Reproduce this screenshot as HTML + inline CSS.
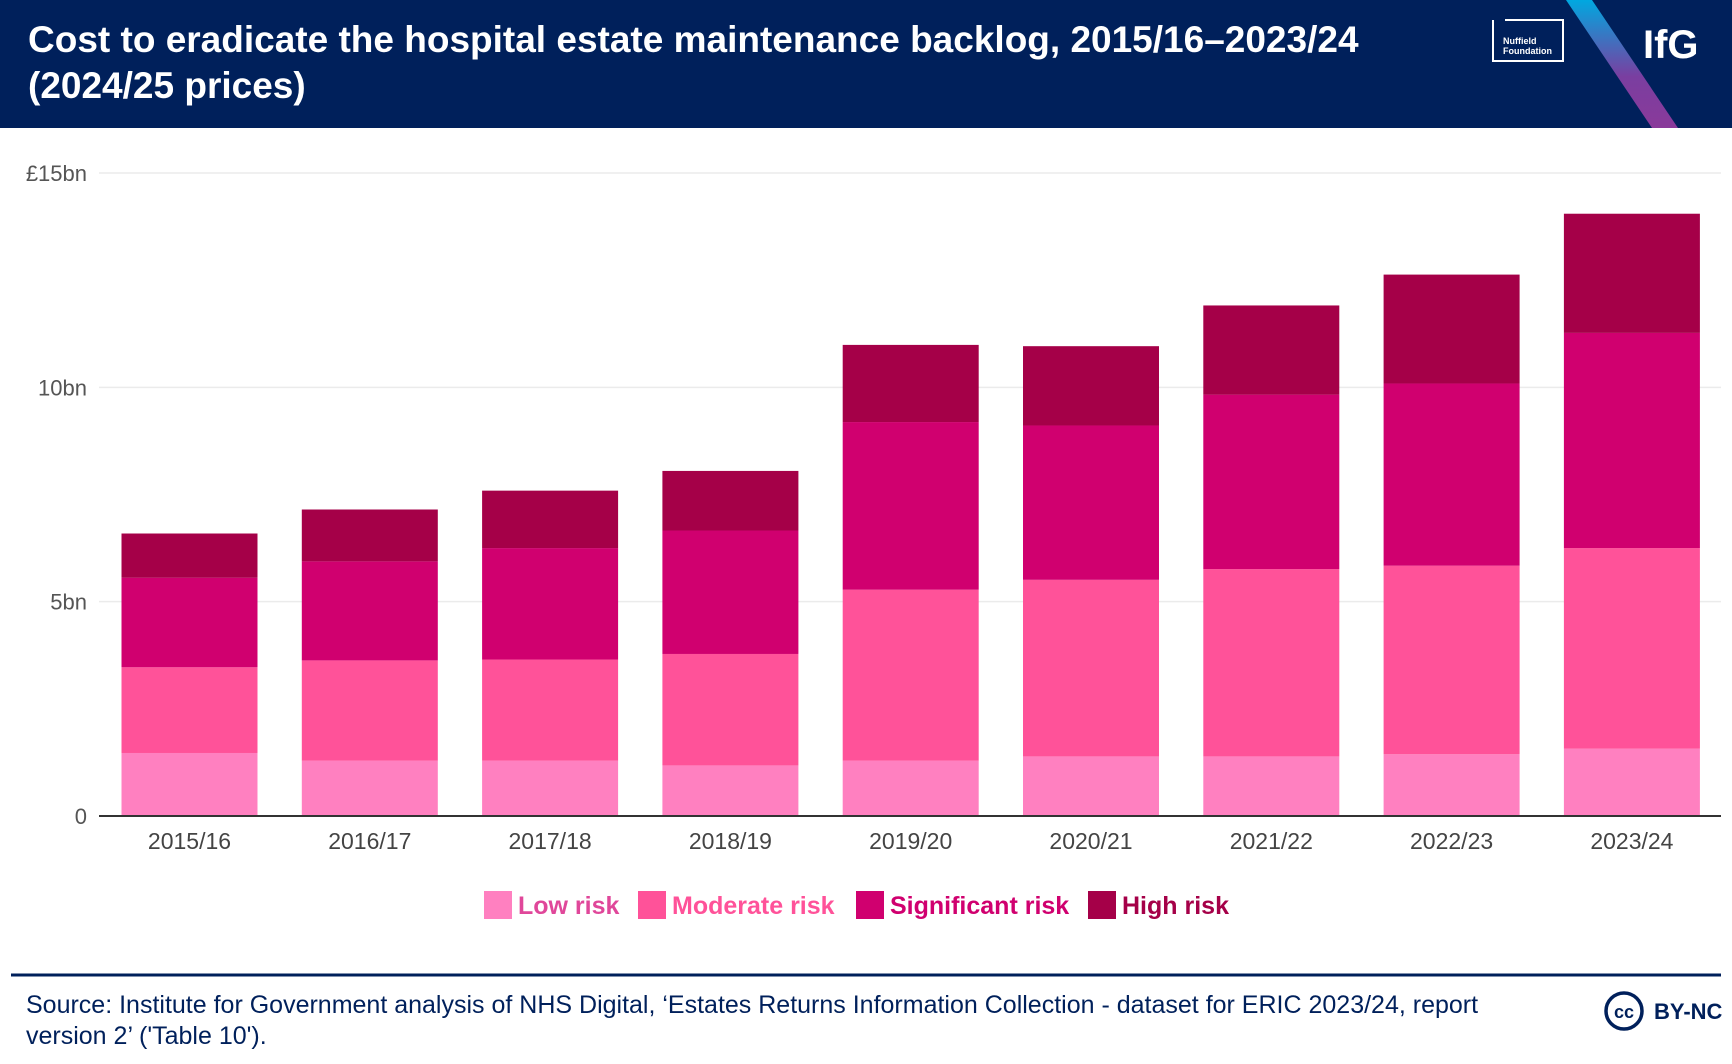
<!DOCTYPE html>
<html><head><meta charset="utf-8"><style>
body{margin:0;width:1732px;height:1064px;background:#fff;font-family:"Liberation Sans",sans-serif;overflow:hidden;position:relative}
#hdr{position:absolute;left:0;top:0;width:1732px;height:128px;background:#00205b}
#title{position:absolute;left:28px;top:17px;color:#fff;font-weight:bold;font-size:37px;line-height:46px;letter-spacing:0px;white-space:nowrap}
#foot{position:absolute;left:26px;top:990px;font-size:25px;line-height:31px;color:#00205b;width:1520px}
</style></head><body>
<div id="hdr">
<div id="title">Cost to eradicate the hospital estate maintenance backlog, 2015/16–2023/24<br>(2024/25 prices)</div>
<svg width="1732" height="128" style="position:absolute;left:0;top:0">
<defs><linearGradient id="g" x1="0" y1="0" x2="0" y2="1"><stop offset="0" stop-color="#00a8e0"/><stop offset="0.6" stop-color="#7a3ea0"/><stop offset="1" stop-color="#8a3a9a"/></linearGradient></defs>
<polygon points="1566,0 1592,0 1678,128 1652,128" fill="url(#g)"/>
<path d="M1493,20 L1493,61 L1563,61 L1563,20 L1505,20" fill="none" stroke="#fff" stroke-width="2"/>
<text x="1503" y="44" fill="#fff" font-size="9" font-weight="bold">Nuffield</text>
<text x="1503" y="54" fill="#fff" font-size="9" font-weight="bold">Foundation</text>
<text x="1643" y="58" fill="#fff" font-size="40" font-weight="bold">IfG</text>
</svg></div>
<svg id="chart" width="1732" height="1064" style="position:absolute;left:0;top:0;pointer-events:none"></svg>
<div id="foot">Source: Institute for Government analysis of NHS Digital, ‘Estates Returns Information Collection - dataset for ERIC 2023/24, report version 2’ ('Table 10').</div>
<svg width="132" height="50" style="position:absolute;left:1600px;top:986px">
<circle cx="24" cy="25" r="18" fill="none" stroke="#00205b" stroke-width="3.5"/>
<text x="24" y="32" text-anchor="middle" font-size="18" font-weight="bold" fill="#00205b">cc</text>
<text x="54" y="33" font-size="22" font-weight="bold" fill="#00205b">BY-NC</text>
</svg>
<script>
const categories=["2015/16","2016/17","2017/18","2018/19","2019/20","2020/21","2021/22","2022/23","2023/24"];
const lowRisk=[1.47,1.29,1.29,1.18,1.29,1.39,1.39,1.44,1.57];
const moderateRisk=[2.00,2.34,2.36,2.60,3.99,4.12,4.37,4.40,4.68];
const significantRisk=[2.09,2.31,2.60,2.88,3.91,3.60,4.07,4.25,5.02];
const highRisk=[1.03,1.21,1.34,1.39,1.80,1.85,2.08,2.54,2.78];
const seriesNames=["Low risk","Moderate risk","Significant risk","High risk"];
const yTicks=[0,5,10,15];
const yTickLabels=["0","5bn","10bn","£15bn"];
const NS="http://www.w3.org/2000/svg";
const svg=document.getElementById('chart');
const colors=["#ff80c0","#ff5299","#d0006f","#a50048"];
const y0=816,yPer=(816-173)/15;
const y=v=>y0-v*yPer;
const xStart=121.5,step=180.3,bw=136;
const x=i=>xStart+i*step;
function mk(t,a){const e=document.createElementNS(NS,t);for(const k in a)e.setAttribute(k,a[k]);svg.appendChild(e);return e;}
yTicks.forEach((t,i)=>{
  if(t>0){const g=mk('line',{x1:99,x2:1721,y1:y(t),y2:y(t),stroke:'#ebebeb','stroke-width':1.5});
  
  }
  const l=mk('text',{x:87,y:y(t)+8,'text-anchor':'end','font-size':22,fill:'#555'});
  l.textContent=yTickLabels[i];
  
  
});
const series=[lowRisk,moderateRisk,significantRisk,highRisk];
categories.forEach((c,i)=>{
  let base=0;
  series.forEach((s,j)=>{
    const r=mk('rect',{x:x(i),y:y(base+s[i]),width:bw,height:y(base)-y(base+s[i]),fill:colors[j]});
    
    
    base+=s[i];
  });
  const t=mk('text',{x:x(i)+bw/2,y:849,'text-anchor':'middle','font-size':23,fill:'#444'});
  t.textContent=c;
  
  
});
const ax=mk('line',{x1:99,x2:1721,y1:816,y2:816,stroke:'#333','stroke-width':2});


const legX=[484,638,856,1088];
seriesNames.forEach((n,j)=>{
  const r=mk('rect',{x:legX[j],y:891,width:28,height:28,fill:colors[j]});
  
  
  const t=mk('text',{x:legX[j]+34,y:914,'font-size':25,'font-weight':'bold',fill:colors[j]==="#ff80c0"?"#e0479a":colors[j]});
  t.textContent=n;
  
  
});
const fl=mk('line',{x1:11,x2:1721,y1:975,y2:975,stroke:'#00205b','stroke-width':3});


</script>
</body></html>
